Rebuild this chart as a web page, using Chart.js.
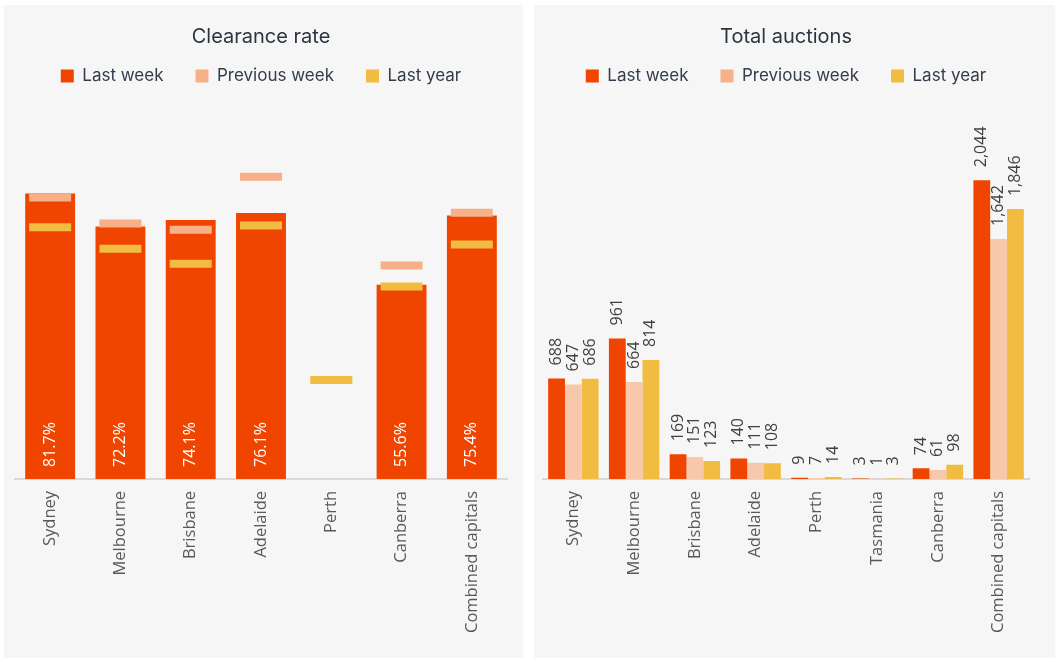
<!DOCTYPE html>
<html lang="en">
<head>
<meta charset="UTF-8">
<title>Clearance rate and total auctions</title>
<script src="https://cdn.jsdelivr.net/npm/chart.js@4.4.0/dist/chart.umd.min.js"></script>
<style>
    body {
        margin: 0;
        background: #ffffff;
        width: 1059px;
        height: 662px;
        position: relative;
        overflow: hidden;
    }
    .panel {
        position: absolute;
        top: 5px;
        height: 653px;
        background: #f6f6f6;
    }
    #leftPanel { left: 4px; width: 519px; }
    #rightPanel { left: 534px; width: 521px; }
</style>
</head>
<body>
<div class="panel" id="leftPanel"><canvas id="clearanceChart"></canvas></div>
<div class="panel" id="rightPanel"><canvas id="auctionsChart"></canvas></div>

<script>
    // Clearance rate (%)
    const clearanceCities = ['Sydney', 'Melbourne', 'Brisbane', 'Adelaide', 'Perth', 'Canberra', 'Combined capitals'];
    const clearanceLastWeek = [81.7, 72.2, 74.1, 76.1, null, 55.6, 75.4];
    const clearancePrevWeek = [80.5, 73.1, 71.3, 86.5, null, 61.1, 76.2];
    const clearanceLastYear = [72.0, 65.9, 61.6, 72.5, 28.3, 55.1, 67.1];

    // Total auctions
    const auctionCities = ['Sydney', 'Melbourne', 'Brisbane', 'Adelaide', 'Perth', 'Tasmania', 'Canberra', 'Combined capitals'];
    const auctionsLastWeek = [688, 961, 169, 140, 9, 3, 74, 2044];
    const auctionsPrevWeek = [647, 664, 151, 111, 7, 1, 61, 1642];
    const auctionsLastYear = [686, 814, 123, 108, 14, 3, 98, 1846];

    const seriesNames = ['Last week', 'Previous week', 'Last year'];
    const orange = '#f04500';
    const peach = '#f8b088';
    const peachLight = '#f8c8ac';
    const gold = '#f2bc42';
    const legendColors = [orange, peach, gold];

    Chart.defaults.font.family = '"Open Sans", sans-serif';

    // draws the rotated value labels on the bars
    const barLabels = {
        id: 'barLabels',
        afterDatasetsDraw(chart, args, opts) {
            const ctx = chart.ctx;
            ctx.save();
            ctx.font = opts.font;
            ctx.fillStyle = opts.color;
            ctx.textAlign = 'left';
            ctx.textBaseline = 'middle';
            opts.datasets.forEach(di => {
                const meta = chart.getDatasetMeta(di);
                meta.data.forEach((bar, i) => {
                    const v = chart.data.datasets[di].data[i];
                    if (v === null || v === undefined) return;
                    const text = opts.percent ? v.toFixed(1) + '%' : v.toLocaleString('en-US');
                    const y = opts.inside ? bar.base - opts.offset : bar.y - opts.offset;
                    ctx.save();
                    ctx.translate(bar.x, y);
                    ctx.rotate(-Math.PI / 2);
                    ctx.fillText(text, 0, 0);
                    ctx.restore();
                });
            });
            ctx.restore();
        }
    };

    function baseOptions(title, yMax, labelOpts) {
        return {
            responsive: true,
            maintainAspectRatio: false,
            animation: false,
            events: [],
            layout: { autoPadding: false, padding: { top: 0, bottom: 13 } },
            plugins: {
                title: {
                    display: true,
                    text: title,
                    color: '#2b3541',
                    font: { family: 'Inter', size: 20, weight: 'normal' },
                    padding: { top: 20, bottom: -13.5 }
                },
                legend: {
                    position: 'top',
                    labels: {
                        boxWidth: 13,
                        boxHeight: 13,
                        padding: 32,
                        color: '#333d4a',
                        font: { family: 'Inter', size: 17 },
                        generateLabels(chart) {
                            return Chart.defaults.plugins.legend.labels.generateLabels(chart).map(l => ({
                                ...l,
                                fillStyle: legendColors[l.datasetIndex],
                                strokeStyle: legendColors[l.datasetIndex],
                                lineWidth: 0
                            }));
                        },
                        sort: (a, b) => a.datasetIndex - b.datasetIndex
                    }
                },
                tooltip: { enabled: false },
                barLabels: labelOpts
            },
            scales: {
                x: {
                    grid: { display: false, drawTicks: false },
                    border: { color: '#d9d9d9', width: 2 },
                    ticks: {
                        autoSkip: false,
                        minRotation: 90,
                        maxRotation: 90,
                        padding: 12,
                        color: '#595959',
                        font: { size: 16.5 }
                    }
                },
                y: { display: false, min: 0, max: yMax }
            }
        };
    }

    function markerDataset(label, data, color) {
        return {
            type: 'line',
            label: label,
            data: data,
            showLine: false,
            pointStyle: 'line',
            pointRadius: 21,
            pointHoverRadius: 21,
            pointBorderWidth: 8,
            pointHoverBorderWidth: 8,
            borderColor: color,
            backgroundColor: color,
            order: 1
        };
    }

    const leftOptions = baseOptions('Clearance rate', 110, {
        datasets: [0], inside: true, offset: 12, color: '#ffffff', font: '16px "Open Sans"', percent: true
    });
    leftOptions.layout.padding.left = 11;
    leftOptions.layout.padding.right = 16;

    new Chart(document.getElementById('clearanceChart'), {
        type: 'bar',
        data: {
            labels: clearanceCities,
            datasets: [
                {
                    label: seriesNames[0],
                    data: clearanceLastWeek,
                    backgroundColor: orange,
                    barPercentage: 1,
                    categoryPercentage: 0.71,
                    order: 2
                },
                markerDataset(seriesNames[1], clearancePrevWeek, peach),
                markerDataset(seriesNames[2], clearanceLastYear, gold)
            ]
        },
        options: leftOptions,
        plugins: [barLabels]
    });

    const rightOptions = baseOptions('Total auctions', 2630, {
        datasets: [0, 1, 2], inside: false, offset: 13, color: '#404040', font: '16px "Open Sans"', percent: false
    });
    rightOptions.layout.padding.left = 9;
    rightOptions.layout.padding.right = 26;

    const auctionSeries = [auctionsLastWeek, auctionsPrevWeek, auctionsLastYear];
    const auctionColors = [orange, peachLight, gold];

    new Chart(document.getElementById('auctionsChart'), {
        type: 'bar',
        data: {
            labels: auctionCities,
            datasets: auctionSeries.map((data, i) => ({
                label: seriesNames[i],
                data: data,
                backgroundColor: auctionColors[i],
                barPercentage: 1,
                categoryPercentage: 0.83
            }))
        },
        options: rightOptions,
        plugins: [barLabels]
    });
</script>
</body>
</html>
